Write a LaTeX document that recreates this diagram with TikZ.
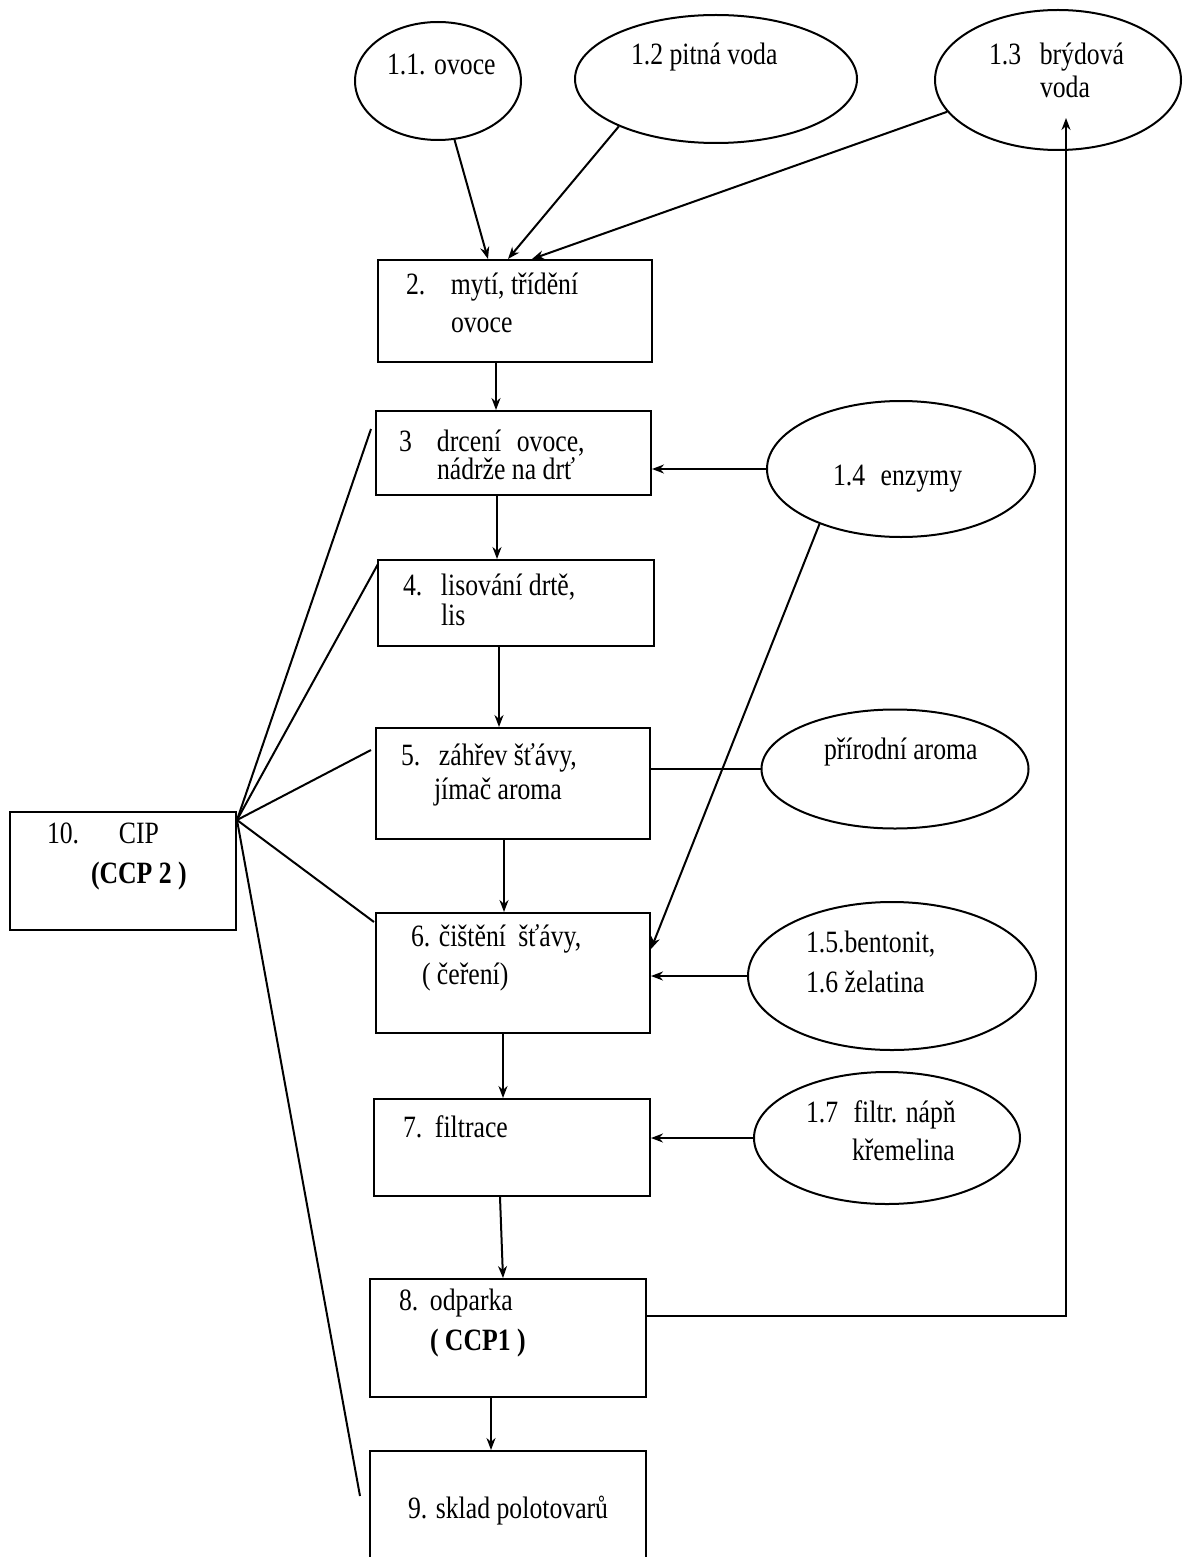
\documentclass[tikz,border=0pt]{standalone}
\usepackage{fontspec}
\setmainfont{Liberation Serif}[FakeStretch=0.83]
\usetikzlibrary{shapes.geometric,arrows.meta,calc}
\begin{document}
\begin{tikzpicture}[x=0.5pt,y=-0.5pt, line width=1pt,
  box/.style={draw, rectangle, inner sep=0pt},
  oval/.style={draw, ellipse, inner sep=0pt},
  txt/.style={anchor=west, inner sep=0pt, text height=0.68em, text depth=0.22em, font=\fontsize{15.5pt}{19pt}\selectfont},
  arr/.style={-{Stealth[length=6pt,width=4.5pt]}},
  plain/.style={-}
]
\useasboundingbox (0,0) rectangle (1183,1557);
\clip (0,0) rectangle (1183,1557);

% process boxes
\node[box, minimum width=137pt, minimum height=51pt] (b2) at (515,311) {};
\node[box, minimum width=137.5pt, minimum height=42pt] (b3) at (513.5,453) {};
\node[box, minimum width=138pt, minimum height=43pt] (b4) at (516,603) {};
\node[box, minimum width=137pt, minimum height=55.5pt] (b5) at (513,783.5) {};
\node[box, minimum width=137pt, minimum height=60pt] (b6) at (513,973) {};
\node[box, minimum width=138pt, minimum height=48.5pt] (b7) at (512,1147.5) {};
\node[box, minimum width=138pt, minimum height=59pt] (b8) at (508,1338) {};
\node[box, minimum width=138pt, minimum height=59.5pt] (b9) at (508,1510.5) {};
\node[box, minimum width=113pt, minimum height=59pt] (b10) at (123,871) {};

% inputs
\node[oval, minimum width=83pt, minimum height=59pt] (e11) at (438,81) {};
\node[oval, minimum width=141pt, minimum height=64pt] (e12) at (716,79) {};
\node[oval, minimum width=123pt, minimum height=70pt] (e13) at (1058,80) {};
\node[oval, minimum width=134pt, minimum height=68pt] (e14) at (901,469) {};
\node[oval, minimum width=133.5pt, minimum height=59.5pt] (ear) at (895,769) {};
\node[oval, minimum width=144pt, minimum height=74pt] (e15) at (892,976) {};
\node[oval, minimum width=133pt, minimum height=66pt] (e17) at (887,1138) {};

% texts
\node[txt] (t2a) at (405,290) {\makebox[22.5pt][l]{2.}mytí, třídění};
\node[txt] (t2b) at (450,328) {ovoce};
\node[txt] (t3a) at (398,447) {\makebox[19pt][l]{3}drcení\hspace{0.5em}ovoce,};
\node[txt] (t3b) at (436,475) {nádrže na drť};
\node[txt] (t4a) at (402,591) {\makebox[19pt][l]{4.}lisování drtě,};
\node[txt] (t4b) at (440,621) {lis};
\node[txt] (t5a) at (400,761) {\makebox[19pt][l]{5.}záhřev šťávy,};
\node[txt] (t5b) at (433,795) {jímač aroma};
\node[txt] (t10a) at (46,839) {\makebox[36pt][l]{10.}CIP};
\node[txt] (t10b) at (90,879) {\textbf{(CCP 2 )}};
\node[txt] (t6a) at (410,942) {6. čištění\hspace{0.4em}šťávy,};
\node[txt] (t6b) at (421,980) {( čeření)};
\node[txt] (t7) at (402,1133) {\makebox[16pt][l]{7.}filtrace};
\node[txt] (t8a) at (398,1306) {\makebox[15.5pt][l]{8.}odparka};
\node[txt] (t8b) at (429,1346) {\textbf{( CCP1 )}};
\node[txt] (t9) at (407,1514) {9. sklad polotovarů};
\node[txt] (t11) at (386,70) {1.1. ovoce};
\node[txt] (t12) at (630,60) {1.2 pitná voda};
\node[txt] (t13a) at (988,60) {1.3\hspace{0.6em}brýdová};
\node[txt] (t13b) at (1039,93) {voda};
\node[txt] (t14) at (832,481) {1.4\hspace{0.5em}enzymy};
\node[txt] (tar) at (823,755) {přírodní aroma};
\node[txt] (t15a) at (805,948) {1.5.bentonit,};
\node[txt] (t15b) at (805,988) {1.6 želatina};
\node[txt] (t17a) at (805,1118) {1.7\hspace{0.5em}filtr. nápň};
\node[txt] (t17b) at (851,1156) {křemelina};

% helper coordinates
\coordinate (apex) at ($(b10.north east)+(0,9)$);
\coordinate (c13) at ($(e13.center)+(8,38)$);
\coordinate (o8) at ($(b8.north east)+(0,38)$);

% inputs to box 2
\draw[arr] (e11) -- ($(b2.north west)+(111,0)$);
\draw[arr] (e12.206) -- ($(b2.north west)+(131,0)$);
\draw[arr] (e13.196) -- ($(b2.north west)+(155,0)$);

% main flow
\draw[arr] ($(b2.south west)+(119,0)$) -- ($(b3.north west)+(121,0)$);
\draw[arr] ($(b3.south west)+(122,0)$) -- ($(b4.north west)+(120,0)$);
\draw[arr] ($(b4.south west)+(122,0)$) -- ($(b5.north west)+(124,0)$);
\draw[arr] ($(b5.south west)+(129,0)$) -- ($(b6.north west)+(129,0)$);
\draw[arr] ($(b6.south west)+(128,0)$) -- ($(b7.north west)+(130,0)$);
\draw[arr] ($(b7.south west)+(127,0)$) -- ($(b8.north west)+(134,0)$);
\draw[arr] ($(b8.south west)+(122,0)$) -- ($(b9.north west)+(122,0)$);

% side inputs
\draw[arr] (e14.west) -- (e14.west -| b3.east);
\draw[arr] (e14.214) -- ($(b6.north east)+(0,37)$);
\draw[plain] (ear.west) -- (ear.west -| b5.east);
\draw[arr] (e15.west) -- (e15.west -| b6.east);
\draw[arr] (e17.west) -- (e17.west -| b7.east);

% vapour water return
\draw[arr] (o8) -| (c13);

% CIP lines
\draw[plain] (apex) -- ($(b3.north west)+(-4,19)$);
\draw[plain] (apex) -- ($(b4.north west)+(1,5)$);
\draw[plain] (apex) -- ($(b5.north west)+(-4,23)$);
\draw[plain] (apex) -- ($(b6.north west)+(-1,10)$);
\draw[plain] (apex) -- ($(b9.north west)+(-9,46)$);
\end{tikzpicture}
\end{document}
